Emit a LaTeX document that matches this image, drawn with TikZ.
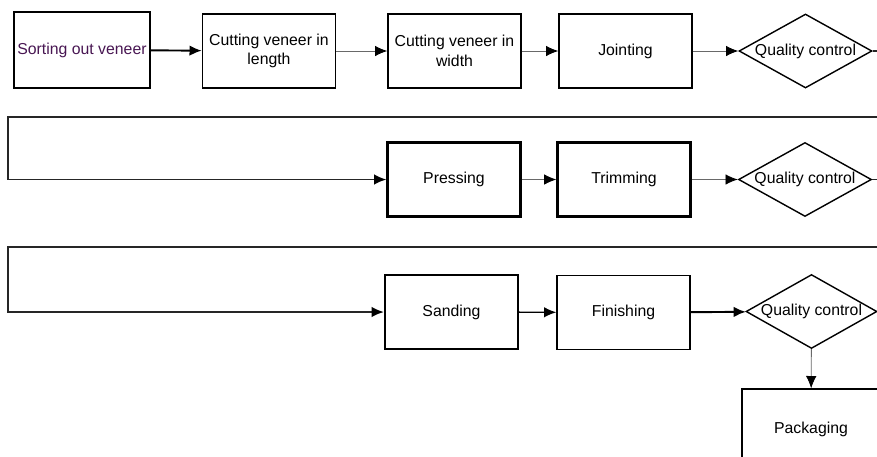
\documentclass[tikz,border=0pt]{standalone}
\usepackage{fontspec}
\setmainfont{Liberation Sans}
\usetikzlibrary{arrows.meta, shapes.geometric, positioning}
\usepackage{xcolor}
\definecolor{sorttext}{RGB}{72,22,82}
\definecolor{thinline}{RGB}{105,105,105}

\begin{document}
\begin{tikzpicture}[x=0.02cm, y=-0.02cm,
	every node/.style={font=\fontsize{9}{11}\selectfont},
	stepbox/.style={draw, line width=0.8pt, minimum width=2.66cm, minimum height=1.48cm, align=center, inner sep=1pt},
	heavybox/.style={stepbox, line width=1.3pt},
	check/.style={draw, diamond, aspect=1.8, line width=0.8pt, minimum width=2.66cm, minimum height=1.48cm, inner sep=0pt},
	flow/.style={-{Latex[length=7pt,width=6pt,color=black]}, line width=0.5pt, thinline},
	boldflow/.style={flow, line width=1.1pt, black},
	returnline/.style={-{Latex[length=7pt,width=6pt,color=black]}, line width=0.9pt, black!85}]
			\useasboundingbox (0,0) rectangle (877,457);
			\clip (0,0) rectangle (877,457);
			
			% first row
			\node[stepbox, text=sorttext, minimum width=2.72cm, minimum height=1.52cm] (sort) at (82,50) {Sorting out veneer};
			\node[stepbox] (cutlen) at (269,51) {Cutting veneer in\\length};
			\node[stepbox] (cutwid) at (454.5,51) {Cutting veneer in\\width};
			\node[stepbox] (joint) at (625.5,51) {Jointing};
			\node[check] (qc1) at (805.5,51) {Quality control};
			
			% second row
			\node[heavybox] (press) at (454,179.5) {Pressing};
			\node[heavybox] (trim) at (624,179.5) {Trimming};
			\node[check] (qc2) at (805,179.5) {Quality control};
			
			% third row
			\node[heavybox] (sand) at (451.5,312) {Sanding};
			\node[stepbox] (finish) at (623.5,312.5) {Finishing};
			\node[check, minimum width=2.62cm] (qc3) at (811.5,311.5) {Quality control};
			\node[stepbox, minimum width=2.76cm, minimum height=1.62cm] (pack) at (811,429.5) {Packaging};
			
			\coordinate (edge1) at (890,117);
			\coordinate (turn1) at (8,117);
			\coordinate (edge2) at (890,247);
			\coordinate (turn2) at (8,247);
			
			\draw[boldflow] (sort) -- (cutlen);
			\draw[flow] (cutlen) -- (cutwid);
			\draw[flow] (cutwid) -- (joint);
			\draw[flow] (joint) -- (qc1);
			\draw[returnline] (qc1.east) -| (edge1) -- (turn1) |- (press.west);
			
			\draw[flow] (press) -- (trim);
			\draw[flow] (trim) -- (qc2);
			\draw[returnline] (qc2.east) -| (edge2) -- (turn2) |- (sand.west);
			
			\draw[boldflow, line width=0.8pt] (sand) -- (finish);
			\draw[boldflow] (finish) -- (qc3);
			\draw[flow] (qc3) -- (pack);
		\end{tikzpicture}
\end{document}
